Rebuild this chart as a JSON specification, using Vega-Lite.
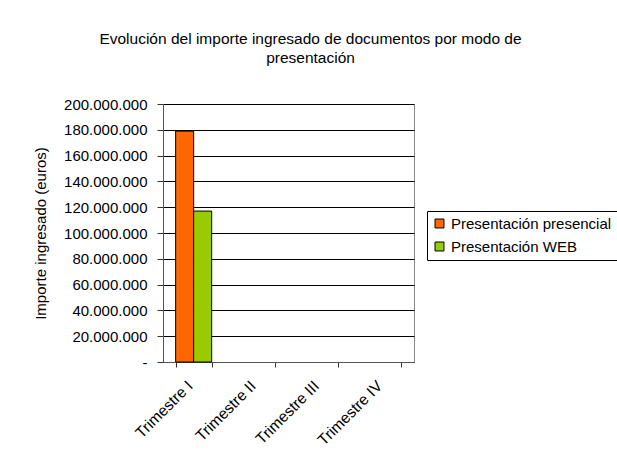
{
  "$schema": "https://vega.github.io/schema/vega-lite/v6.json",
  "autosize": "none",
  "width": 251,
  "height": 258,
  "padding": {"left": 163, "top": 104, "right": 203, "bottom": 102},
  "background": "white",
  "title": {
    "text": ["Evolución del importe ingresado de documentos por modo de", "presentación"],
    "anchor": "middle",
    "frame": "group",
    "dx": 22,
    "offset": 31,
    "font": "Liberation Sans",
    "fontSize": 15.5,
    "fontWeight": "normal",
    "color": "black",
    "lineHeight": 19,
    "limit": 600
  },
  "data": {
    "values": [
      {"trimestre": "Trimestre I", "modo": "Presentación presencial", "importe": 179000000},
      {"trimestre": "Trimestre I", "modo": "Presentación WEB", "importe": 117000000},
      {"trimestre": "Trimestre II", "modo": "Presentación presencial", "importe": 0},
      {"trimestre": "Trimestre II", "modo": "Presentación WEB", "importe": 0},
      {"trimestre": "Trimestre III", "modo": "Presentación presencial", "importe": 0},
      {"trimestre": "Trimestre III", "modo": "Presentación WEB", "importe": 0},
      {"trimestre": "Trimestre IV", "modo": "Presentación presencial", "importe": 0},
      {"trimestre": "Trimestre IV", "modo": "Presentación WEB", "importe": 0}
    ]
  },
  "mark": {"type": "bar", "stroke": "black", "strokeWidth": 1},
  "encoding": {
    "x": {
      "field": "trimestre",
      "type": "nominal",
      "sort": null,
      "title": null,
      "scale": {"paddingInner": 0.43, "paddingOuter": 0.2},
      "axis": {
        "tickBand": "extent",
        "labelAngle": -45,
        "labelAlign": "right",
        "labelBaseline": "middle",
        "labelFont": "Liberation Sans",
        "labelFontSize": 15.5,
        "labelColor": "black",
        "labelPadding": 16,
        "labelOffset": -4,
        "domainColor": "#555555",
        "tickColor": "#333333",
        "tickSize": 5,
        "grid": false
      }
    },
    "xOffset": {"field": "modo", "type": "nominal", "sort": null},
    "y": {
      "field": "importe",
      "type": "quantitative",
      "title": "Importe ingresado (euros)",
      "scale": {"domain": [0, 200000000], "nice": false},
      "axis": {
        "values": [0, 20000000, 40000000, 60000000, 80000000, 100000000, 120000000, 140000000, 160000000, 180000000, 200000000],
        "format": ",.0f",
        "labelExpr": "datum.value == 0 ? '-' : datum.label",
        "labelFont": "Liberation Sans",
        "labelFontSize": 15,
        "labelColor": "black",
        "labelPadding": 10,
        "labelOverlap": false,
        "titleFont": "Liberation Sans",
        "titleFontSize": 15,
        "titleFontWeight": "normal",
        "titleColor": "black",
        "titlePadding": 15,
        "gridColor": "black",
        "gridOpacity": 1,
        "domainColor": "#555555",
        "tickColor": "#333333",
        "tickSize": 6
      }
    },
    "opacity": {"condition": {"test": "datum.importe > 0", "value": 1}, "value": 0},
    "color": {
      "field": "modo",
      "type": "nominal",
      "sort": null,
      "scale": {"range": ["#FF6600", "#99CC00"]},
      "legend": {
        "title": null,
        "orient": "none",
        "legendX": 264,
        "legendY": 107,
        "symbolType": "square",
        "symbolSize": 80,
        "symbolStrokeColor": "black",
        "symbolStrokeWidth": 1,
        "symbolOpacity": 1,
        "labelFont": "Liberation Sans",
        "labelFontSize": 15,
        "labelColor": "black",
        "labelLimit": 300,
        "labelOffset": 4,
        "rowPadding": 7,
        "padding": 5,
        "strokeColor": "black",
        "fillColor": "white",
        "symbolOffset": 0
      }
    }
  },
  "config": {
    "locale": {"number": {"decimal": ",", "thousands": ".", "grouping": [3], "currency": ["", " €"]}},
    "view": {"stroke": "#888888", "strokeWidth": 1}
  }
}
